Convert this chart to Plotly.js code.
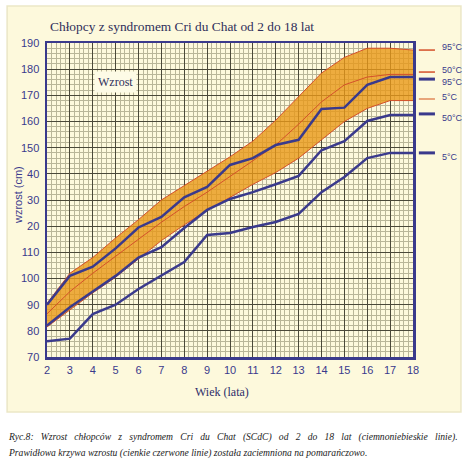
<!DOCTYPE html>
<html>
<head>
<meta charset="utf-8">
<script src="https://cdn.plot.ly/plotly-3.0.1.min.js"></script>
<style>html,body{margin:0;padding:0;background:#fff;}#chart{width:474px;height:464px;}</style>
</head>
<body>
<div id="chart"></div>
<script>
// Age (years)
const ages = [2,3,4,5,6,7,8,9,10,11,12,13,14,15,16,17,18];
// Normal reference (thin red lines, orange band)
const normal95 = [90.5,102,108,115.5,122.5,130,135.5,141,146.5,152.5,160.5,169.5,178.5,184.5,188,188,187.3];
const normal50 = [86.5,95,102,108.5,115,121.5,127.5,133,139,145,151,159,167.5,174,177,178,178];
const normal5  = [81.5,88,94.5,100.5,107.5,114.5,120.5,126,131,136,140.5,146,153,160,165,168,168];
// Boys with Cri du Chat (dark blue lines)
const cdc95 = [90,101,104.5,111.5,119.5,123.5,131,135,143.4,146,151,153,164.8,165.3,174,177,177];
const cdc50 = [82,89,95,101,108,112,119.3,126.2,130.4,133,136,139.2,149,152.5,160.2,162.5,162.5];
const cdc5  = [76,77,86.4,90,96,101,106.3,116.6,117.4,119.7,121.6,124.7,133,138.8,146,148,148];
// Axis ticks
const yTickVals = [70,80,90,100,110,120,130,140,150,160,170,180,190];
const yTickText = ["70","80","90","100","110","20","30","40","150","160","170","180","190"];
const xTickVals = ages;
// Legend labels
const legendLabels = ["95°C","50°C","95°C","5°C","50°C","5°C"];
// Caption
const captionLine1 = "Ryc.8: Wzrost chłopców z syndromem Cri du Chat (SCdC) od 2 do 18 lat (ciemnoniebieskie linie).";
const captionLine2 = "Prawidłowa krzywa wzrostu (cienkie czerwone linie) została zaciemniona na pomarańczowo.";

const navy = "#3a3a8c";
const red = "#d4502a";
const orangeFill = "rgba(232,152,24,0.80)";
const serif = "'Liberation Serif', 'Times New Roman', Times, serif";
const sans = "'Liberation Sans', Arial, sans-serif";

// justify first caption line by widening word gaps
const justified1 = captionLine1.split(" ").join(" \u00a0\u00a0");

const traces = [
  {x: ages, y: normal5, mode: "lines", line: {color: red, width: 1}, hoverinfo: "skip", showlegend: false},
  {x: ages, y: normal95, mode: "lines", line: {color: red, width: 1}, fill: "tonexty", fillcolor: orangeFill, hoverinfo: "skip", showlegend: false},
  {x: ages, y: normal50, mode: "lines", line: {color: red, width: 1}, showlegend: false},
  {x: ages, y: cdc95, mode: "lines", line: {color: navy, width: 2.5}, showlegend: false},
  {x: ages, y: cdc50, mode: "lines", line: {color: navy, width: 2.5}, showlegend: false},
  {x: ages, y: cdc5, mode: "lines", line: {color: navy, width: 2.5}, showlegend: false}
];

// legend key styling/placement (line y, text y in axis units)
const legendStyle = [
  {lineY: 187.3, textY: 188.5, color: red, w: 1.5},
  {lineY: 178.9, textY: 179.7, color: red, w: 1.5},
  {lineY: 176.2, textY: 175.0, color: navy, w: 3},
  {lineY: 168.6, textY: 169.3, color: "#e08a5a", w: 1.5},
  {lineY: 162.9, textY: 161.3, color: navy, w: 3},
  {lineY: 148.0, textY: 146.6, color: navy, w: 3}
];

const shapes = [
  {type: "rect", xref: "paper", yref: "paper", x0: -0.109, x1: 1.131, y0: -0.175, y1: 1.118,
   fillcolor: "#fdf9dc", line: {color: "#ebe7c6", width: 1.5}, layer: "below"}
];
const annotations = [
  {xref: "paper", yref: "paper", x: 0.003, y: 1.052, xanchor: "left", yanchor: "middle", showarrow: false,
   text: "Chłopcy z syndromem Cri du Chat od 2 do 18 lat",
   font: {family: serif, size: 13.4, color: "#2e2e5a"}},
  {xref: "x", yref: "y", x: 5.0, y: 175.2, xanchor: "center", yanchor: "middle", showarrow: false, text: "Wzrost",
   bgcolor: "#fdfbe6", borderpad: 3,
   font: {family: serif, size: 12, color: "#2e2e5a"}},
  {xref: "paper", yref: "paper", x: 0.478, y: -0.111, xanchor: "center", yanchor: "middle", showarrow: false, text: "Wiek (lata)",
   font: {family: serif, size: 12, color: "#2e2e6a"}},
  {xref: "paper", yref: "paper", x: -0.079, y: 0.516, xanchor: "center", yanchor: "middle", showarrow: false, text: "wzrost (cm)", textangle: -90,
   font: {family: sans, size: 11, color: navy}},
  {xref: "paper", yref: "paper", x: -0.111, y: -0.255, xanchor: "left", yanchor: "middle", showarrow: false,
   text: "<i>" + justified1 + "</i>",
   font: {family: serif, size: 9.6, color: "#222"}},
  {xref: "paper", yref: "paper", x: -0.111, y: -0.306, xanchor: "left", yanchor: "middle", showarrow: false,
   text: "<i>" + captionLine2 + "</i>",
   font: {family: serif, size: 9.6, color: "#222"}}
];
legendStyle.forEach((it, i) => {
  shapes.push({type: "line", xref: "paper", yref: "y", x0: 1.016, x1: 1.060, y0: it.lineY, y1: it.lineY,
    line: {color: it.color, width: it.w}});
  annotations.push({xref: "paper", yref: "y", x: 1.074, y: it.textY, xanchor: "left", yanchor: "middle",
    showarrow: false, text: legendLabels[i],
    font: {family: sans, size: 9, color: navy}});
});

const layout = {
  width: 474, height: 464,
  margin: {l: 47, r: 61, t: 43, b: 107, pad: 0},
  paper_bgcolor: "#ffffff",
  plot_bgcolor: "#f4f1cf",
  showlegend: false,
  xaxis: {
    range: [2, 18], tickvals: xTickVals, ticks: "", showline: true, mirror: true,
    linecolor: navy, linewidth: 2.5, gridcolor: "#4a4838", gridwidth: 1, zeroline: false,
    minor: {dtick: 0.2, showgrid: true, gridcolor: "#b9b698", gridwidth: 1},
    tickfont: {family: sans, size: 11, color: navy},
    ticklabelstandoff: 1
  },
  yaxis: {
    range: [70, 190], tickvals: yTickVals, ticktext: yTickText, ticks: "", showline: true, mirror: true,
    linecolor: navy, linewidth: 2.5, gridcolor: "#4a4838", gridwidth: 1, zeroline: false,
    minor: {dtick: 2, showgrid: true, gridcolor: "#b9b698", gridwidth: 1},
    tickfont: {family: sans, size: 11, color: navy},
    ticklabelstandoff: 3
  },
  shapes: shapes,
  annotations: annotations
};

Plotly.newPlot("chart", traces, layout, {displayModeBar: false, staticPlot: true});
</script>
</body>
</html>
